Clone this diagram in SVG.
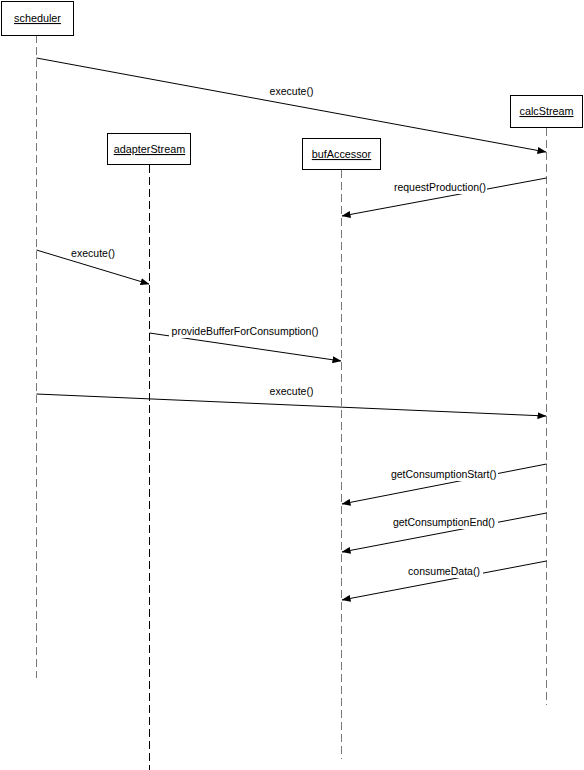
<svg xmlns="http://www.w3.org/2000/svg" width="584" height="770" viewBox="0 0 584 770">
<style>
.box{fill:#fff;stroke:#000;stroke-width:1}
.name{font-family:"Liberation Sans",Arial,sans-serif;font-size:10.8px;fill:#000;text-anchor:middle;text-decoration:underline}
.life{stroke:#777;stroke-width:1;stroke-dasharray:8 4;fill:none}
.msg{stroke:#000;stroke-width:1;fill:none;marker-end:url(#ah)}
.lbl{font-family:"Liberation Sans",Arial,sans-serif;font-size:10.5px;fill:#000;text-anchor:middle}
.bg{fill:#fff}
</style>
<defs>
<marker id="ah" markerWidth="9" markerHeight="7" refX="8.5" refY="3.5" orient="auto" markerUnits="userSpaceOnUse">
<path d="M0,0 L9,3.5 L0,7 z" fill="#000"/>
</marker>
</defs>
<g id="lifelines">
<line class="life" x1="36.5" y1="35" x2="36.5" y2="678"/>
<line class="life" x1="149.5" y1="165" x2="149.5" y2="770" style="stroke:#000"/>
<line class="life" x1="341.5" y1="170" x2="341.5" y2="759"/>
<line class="life" x1="546.5" y1="128" x2="546.5" y2="705"/>
</g>
<g id="scheduler">
<rect class="box" x="1.5" y="1.5" width="72" height="34"/>
<text class="name" x="37.5" y="22">scheduler</text>
</g>
<g id="adapterStream">
<rect class="box" x="107.5" y="133.5" width="83" height="31"/>
<text class="name" x="149.5" y="153">adapterStream</text>
</g>
<g id="bufAccessor">
<rect class="box" x="302.5" y="138.5" width="78" height="31"/>
<text class="name" x="341.5" y="158">bufAccessor</text>
</g>
<g id="calcStream">
<rect class="box" x="510.5" y="95.5" width="72" height="32"/>
<text class="name" x="546.5" y="115">calcStream</text>
</g>
<g id="connectors">
<line class="msg" x1="36.5" y1="58" x2="546" y2="152"/>
<line class="msg" x1="546.5" y1="178" x2="342" y2="216"/>
<line class="msg" x1="36.5" y1="250" x2="149" y2="284"/>
<line class="msg" x1="149.5" y1="333" x2="341" y2="361"/>
<line class="msg" x1="36.5" y1="394" x2="546" y2="416"/>
<line class="msg" x1="546.5" y1="464" x2="342" y2="504"/>
<line class="msg" x1="546.5" y1="513" x2="342" y2="552"/>
<line class="msg" x1="546.5" y1="561" x2="342" y2="600"/>
</g>
<g id="labels">
<text class="lbl" x="291.5" y="95">execute()</text>
<rect class="bg" x="393" y="181" width="94" height="13"/>
<text class="lbl" x="440" y="191">requestProduction()</text>
<text class="lbl" x="93" y="257">execute()</text>
<rect class="bg" x="169" y="325" width="152" height="13"/>
<text class="lbl" x="245" y="335">provideBufferForConsumption()</text>
<text class="lbl" x="291.5" y="395">execute()</text>
<rect class="bg" x="389" y="468" width="109" height="13"/>
<text class="lbl" x="443.7" y="478">getConsumptionStart()</text>
<rect class="bg" x="391" y="516" width="107" height="13"/>
<text class="lbl" x="444" y="526">getConsumptionEnd()</text>
<rect class="bg" x="405" y="565" width="78" height="13"/>
<text class="lbl" x="444" y="575">consumeData()</text>
</g>
</svg>
